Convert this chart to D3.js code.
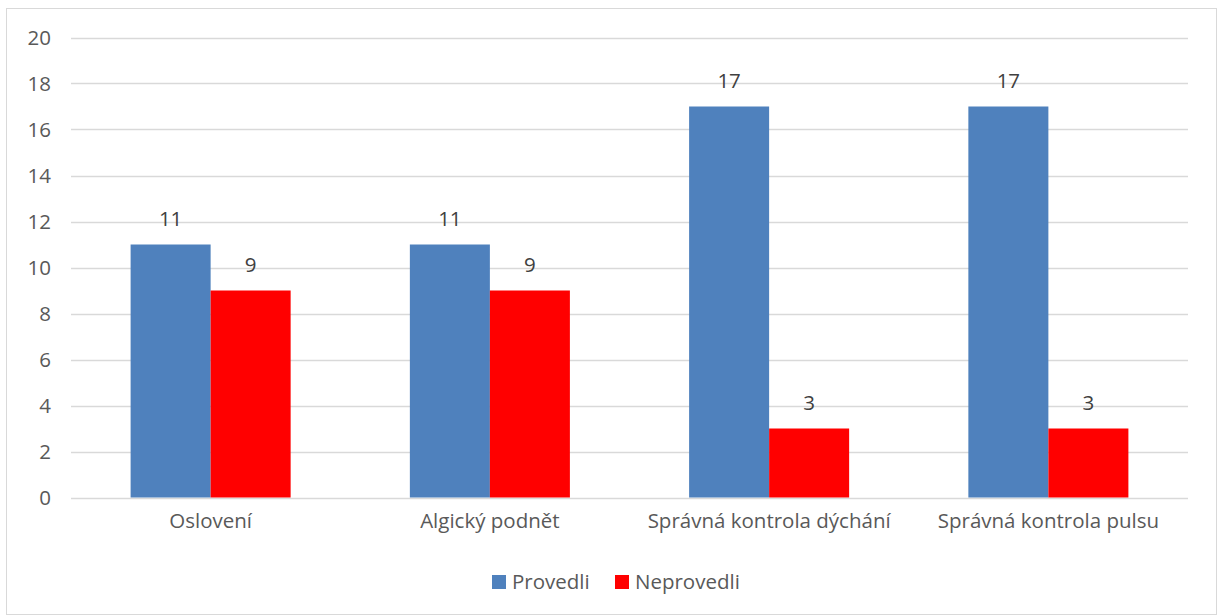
<!DOCTYPE html>
<html>
<head>
<meta charset="utf-8">
<script src="https://cdn.jsdelivr.net/npm/d3@7"></script>
<style>
  body { margin: 0; background: #fff; }
  svg { display: block; font-family: "Open Sans", "Liberation Sans", sans-serif; }
</style>
</head>
<body>
<svg id="chart" width="1222" height="615"></svg>
<script>
const categories = ["Oslovení", "Algický podnět", "Správná kontrola dýchání", "Správná kontrola pulsu"];
const seriesNames = ["Provedli", "Neprovedli"];
const provedli = [11, 11, 17, 17];
const neprovedli = [9, 9, 3, 3];
const yTicks = [0, 2, 4, 6, 8, 10, 12, 14, 16, 18, 20];
const colors = ["#4f81bd", "#ff0000"];

const seriesValues = [provedli, neprovedli];
const svg = d3.select("#chart");
const textColor = "#595959";
const fontSize = "20.5px";

// outer frame
svg.append("rect")
  .attr("x", 6.5).attr("y", 8.5).attr("width", 1210).attr("height", 606)
  .attr("fill", "#fff").attr("stroke", "#d9d9d9").attr("stroke-width", 1);

const plot = { left: 71, right: 1188, top: 37.5, bottom: 497.5 };

const x = d3.scaleBand().domain(categories).range([plot.left, plot.right]).paddingInner(0).paddingOuter(0);
const inner = d3.scaleBand().domain(seriesNames).range([0, x.bandwidth()]).paddingInner(0).paddingOuter(0.745);
const y = d3.scaleLinear().domain([0, 20]).range([plot.bottom, plot.top]);

// gridlines
svg.append("g").selectAll("line").data(yTicks).join("line")
  .attr("x1", plot.left).attr("x2", plot.right)
  .attr("y1", d => Math.round(y(d)) + 0.5).attr("y2", d => Math.round(y(d)) + 0.5)
  .attr("stroke", "#d9d9d9").attr("stroke-width", 1.3);

// y axis labels
const yAxis = svg.append("g")
  .attr("transform", `translate(${plot.left - 20},0)`)
  .call(d3.axisLeft(y).tickValues(yTicks).tickSize(0).tickPadding(0));
yAxis.select(".domain").remove();
yAxis.selectAll("text").attr("fill", textColor).style("font-size", fontSize)
  .style("font-family", "'Open Sans', sans-serif").attr("dy", "0.35em");

// bars
const groups = svg.append("g").selectAll("g").data(categories).join("g")
  .attr("transform", d => `translate(${x(d)},0)`);

groups.selectAll("rect").data((c, i) => seriesNames.map((s, k) => ({ s, v: seriesValues[k][i], k })))
  .join("rect")
  .attr("x", d => inner(d.s))
  .attr("width", inner.bandwidth())
  .attr("y", d => y(d.v))
  .attr("height", d => y(0) - y(d.v))
  .attr("fill", d => colors[d.k]);

// value labels
groups.selectAll("text").data((c, i) => seriesNames.map((s, k) => ({ s, v: seriesValues[k][i], k })))
  .join("text")
  .attr("x", d => inner(d.s) + inner.bandwidth() / 2)
  .attr("y", d => y(d.v) - 19)
  .attr("text-anchor", "middle")
  .attr("fill", "#404040")
  .style("font-size", fontSize)
  .text(d => d.v);

// x axis labels
const xAxis = svg.append("g")
  .attr("transform", `translate(0,${plot.bottom + 10})`)
  .call(d3.axisBottom(x).tickSize(0).tickPadding(0));
xAxis.select(".domain").remove();
xAxis.selectAll("text").attr("fill", textColor).style("font-size", fontSize)
  .style("font-family", "'Open Sans', sans-serif").attr("dy", "1em");

// legend
const legendItems = [{ name: seriesNames[0], x: 492 }, { name: seriesNames[1], x: 615 }];
const legend = svg.append("g").selectAll("g").data(legendItems).join("g")
  .attr("transform", d => `translate(${d.x},575)`);
legend.append("rect").attr("width", 14).attr("height", 14).attr("fill", (d, i) => colors[i]);
legend.append("text").attr("x", 20).attr("y", 7).attr("dy", "0.35em")
  .attr("fill", textColor).style("font-size", fontSize).text(d => d.name);
</script>
</body>
</html>
